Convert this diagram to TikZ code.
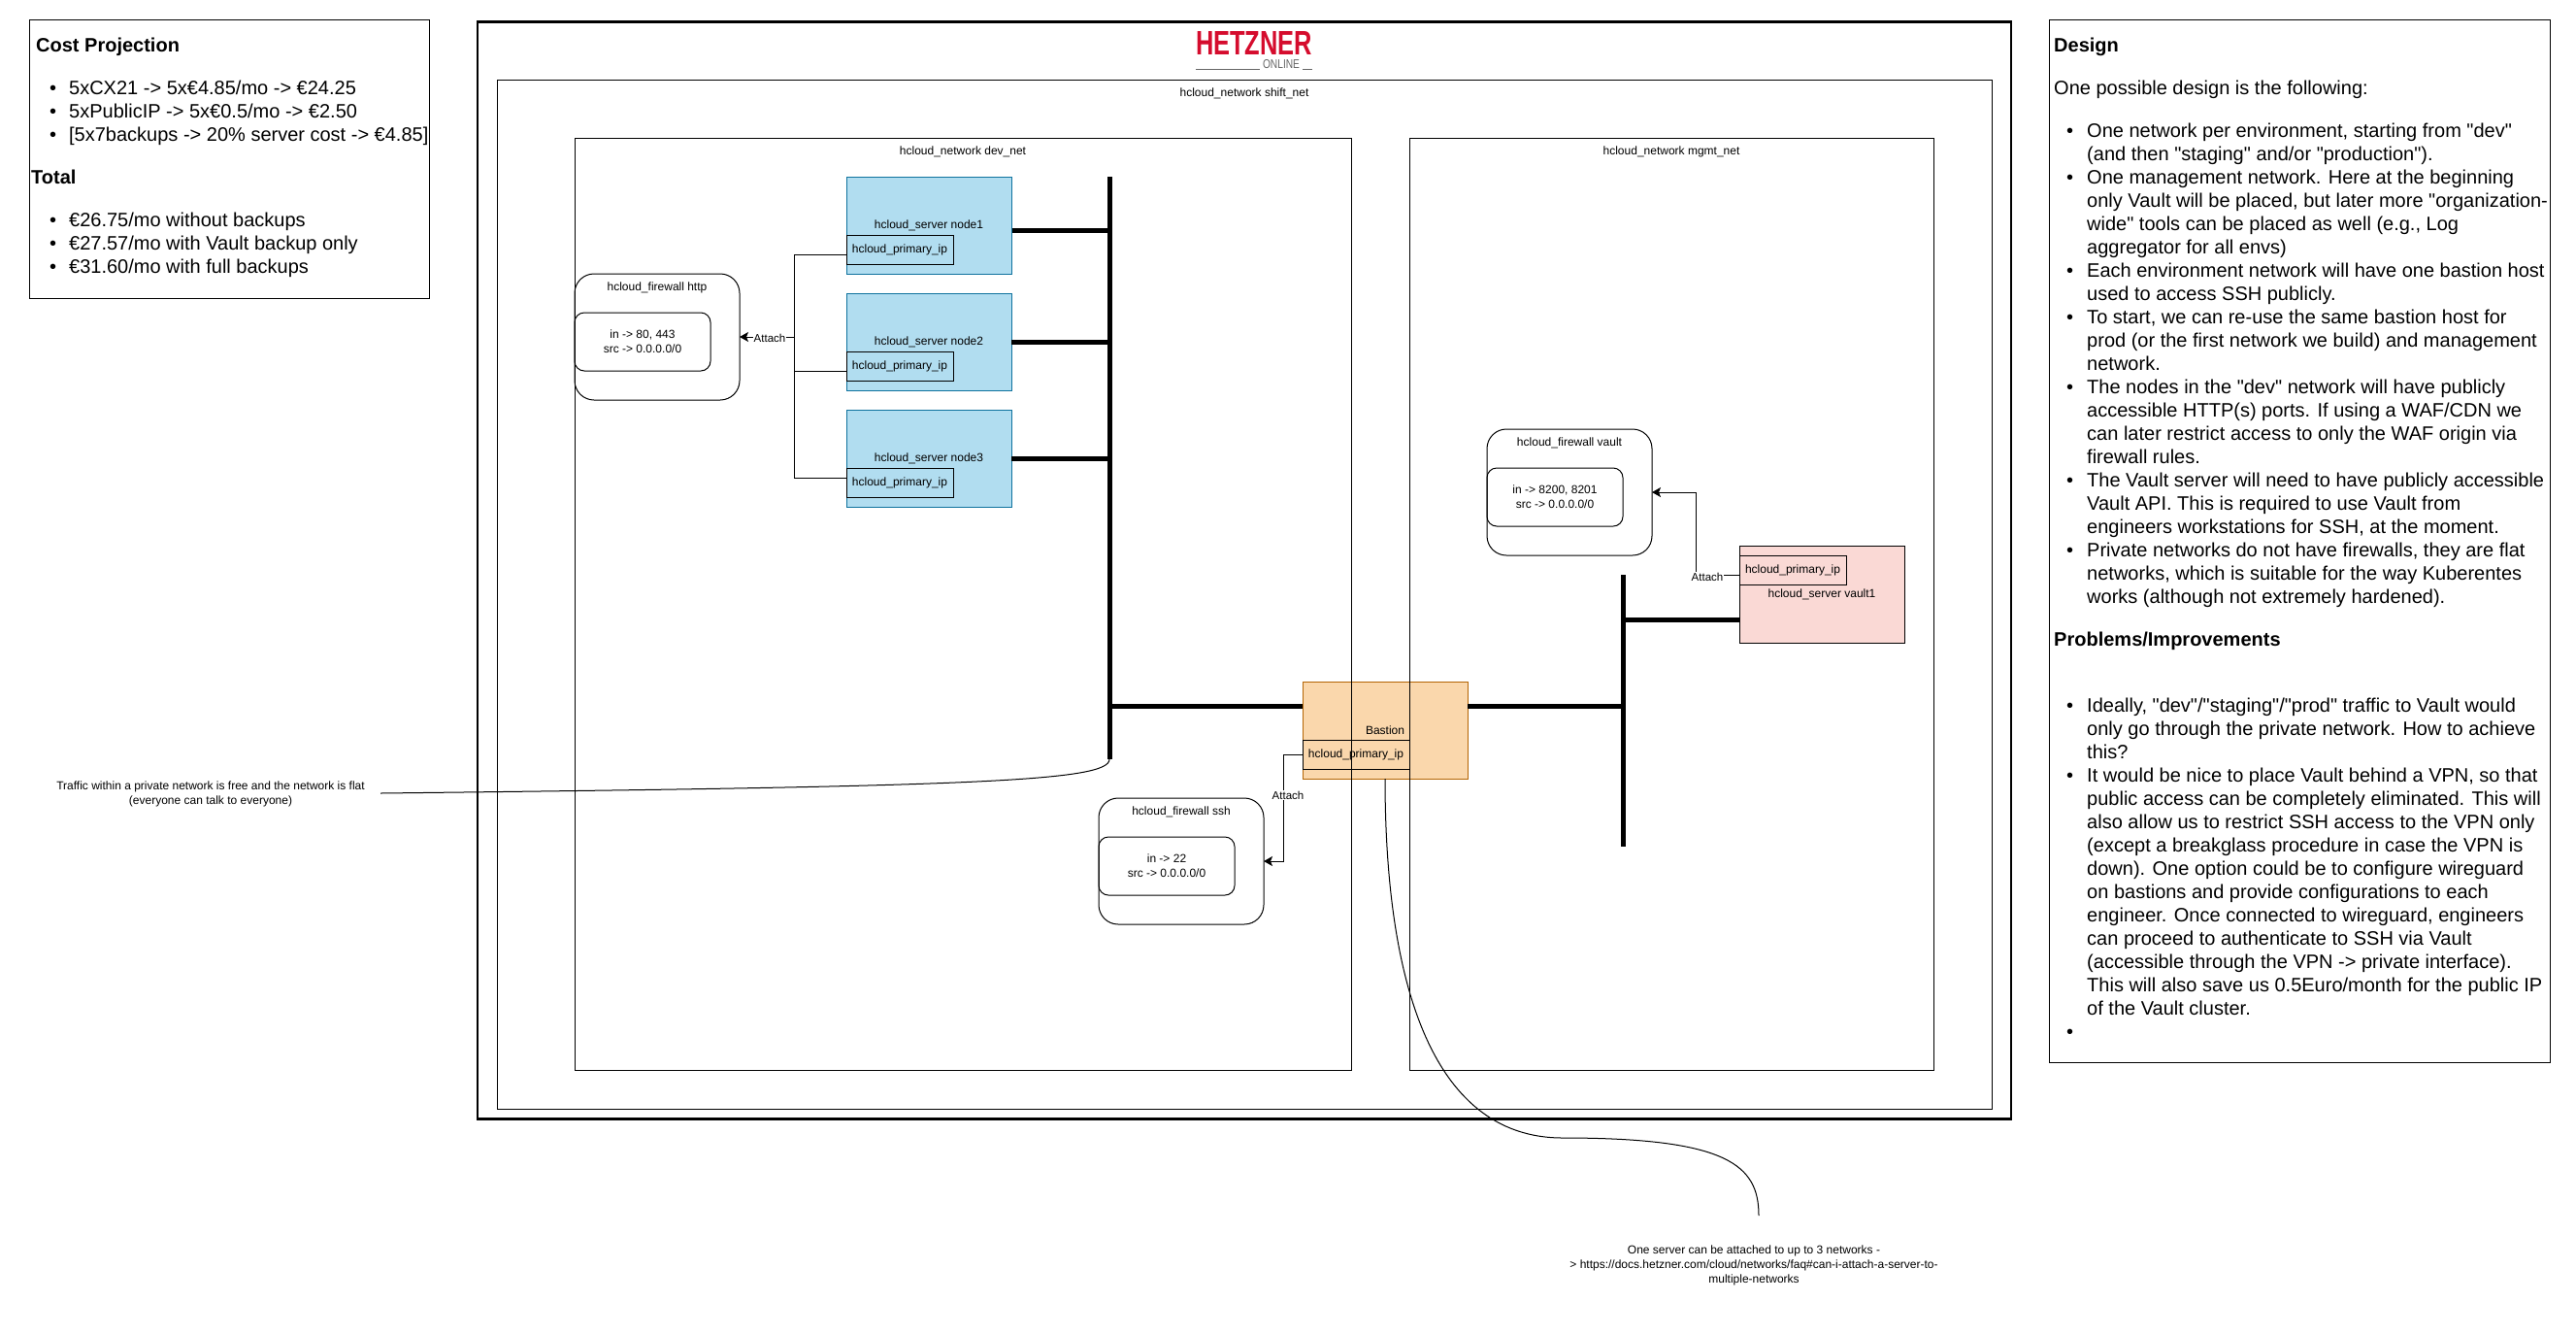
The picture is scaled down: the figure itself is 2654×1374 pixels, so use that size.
\documentclass[tikz,border=0pt]{standalone}
\usepackage{fontspec}
\setmainfont{Liberation Sans}[Ligatures=TeXOff]
\usepackage{xcolor}
\usetikzlibrary{arrows.meta}
\definecolor{serverfill}{HTML}{B1DDF0}
\definecolor{serverline}{HTML}{10739E}
\definecolor{bastionfill}{HTML}{FAD7AC}
\definecolor{bastionline}{HTML}{B46504}
\definecolor{vaultfill}{HTML}{FAD9D5}
\definecolor{logored}{HTML}{D50C2D}
\definecolor{logogray}{HTML}{666666}
\tikzset{base box/.style = {draw = black, line width = 1pt, inner sep = 0pt, outer sep = 0pt, font = \fontsize{12}{15}\selectfont, align = center}}
\tikzset{net box/.style = {base box, anchor = north west}}
\tikzset{server box/.style = {base box, anchor = north west, minimum width = 170pt, minimum height = 100pt}}
\tikzset{ip box/.style = {base box, anchor = north west, minimum width = 110pt, minimum height = 30pt}}
\tikzset{fw box/.style = {base box, anchor = north west, rounded corners = 20pt, minimum width = 170pt, minimum height = 130pt}}
\tikzset{rule box/.style = {base box, anchor = north west, rounded corners = 10pt, minimum width = 140pt, minimum height = 60pt}}
\tikzset{small text/.style = {inner sep = 0pt, font = \fontsize{12}{15}\selectfont, align = center}}
\tikzset{panel text/.style = {inner sep = 0pt, anchor = north west, font = \fontsize{20}{24}\selectfont, align = left}}
\tikzset{attach text/.style = {fill = white, inner sep = 0.5pt, font = \fontsize{11.5}{14}\selectfont}}
\tikzset{wire/.style = {line width = 1pt}}
\tikzset{attach wire/.style = {line width = 1pt, -{Stealth[length = 9pt, width = 10pt, inset = 2pt]}}}
\tikzset{bus/.style = {line width = 5pt}}
\newcommand{\costitem}{\makebox[39pt][l]{\hspace*{19pt}\textbullet}}
\newcommand{\designitem}{\makebox[34pt][l]{\hspace*{13pt}\textbullet}}
\newcommand{\designgap}{\hspace*{34pt}}
\begin{document}
\begin{tikzpicture}[x = 1pt, y = -1pt]

  \useasboundingbox (0 , 0) rectangle (2654 , 1374);

  \def\devbus{1143}
  \def\mgmtbus{1672}

  \node [net box, minimum width = 412pt, minimum height = 287pt] (costbox) at (30 , 20) {};
  \node [panel text] (costtext) at (32 , 39) {\hspace*{5pt}\bfseries Cost Projection\\[20pt]
    \costitem 5xCX21 -> 5x€4.85/mo -> €24.25\\
    \costitem 5xPublicIP -> 5x€0.5/mo -> €2.50\\
    \costitem [5x7backups -> 20\% server cost -> €4.85]\\[20pt]
    \bfseries Total\\[20pt]
    \costitem €26.75/mo without backups\\
    \costitem €27.57/mo with Vault backup only\\
    \costitem €31.60/mo with full backups};

  \node [net box, minimum width = 516pt, minimum height = 1074pt] (designbox) at (2111 , 20) {};
  \node [panel text] (designtext) at (2116 , 39) {\bfseries Design\\[20pt]
    One possible design is the following:\\[20pt]
    \designitem One network per environment, starting from "dev"\\
    \designgap (and then "staging" and/or "production").\\
    \designitem One management network. Here at the beginning\\
    \designgap only Vault will be placed, but later more "organization-\\
    \designgap wide" tools can be placed as well (e.g., Log\\
    \designgap aggregator for all envs)\\
    \designitem Each environment network will have one bastion host\\
    \designgap used to access SSH publicly.\\
    \designitem To start, we can re-use the same bastion host for\\
    \designgap prod (or the first network we build) and management\\
    \designgap network.\\
    \designitem The nodes in the "dev" network will have publicly\\
    \designgap accessible HTTP(s) ports. If using a WAF/CDN we\\
    \designgap can later restrict access to only the WAF origin via\\
    \designgap firewall rules.\\
    \designitem The Vault server will need to have publicly accessible\\
    \designgap Vault API. This is required to use Vault from\\
    \designgap engineers workstations for SSH, at the moment.\\
    \designitem Private networks do not have firewalls, they are flat\\
    \designgap networks, which is suitable for the way Kuberentes\\
    \designgap works (although not extremely hardened).\\[20pt]
    \bfseries Problems/Improvements\\[44pt]
    \designitem Ideally, "dev"/"staging"/"prod" traffic to Vault would\\
    \designgap only go through the private network. How to achieve\\
    \designgap this?\\
    \designitem It would be nice to place Vault behind a VPN, so that\\
    \designgap public access can be completely eliminated. This will\\
    \designgap also allow us to restrict SSH access to the VPN only\\
    \designgap (except a breakglass procedure in case the VPN is\\
    \designgap down). One option could be to configure wireguard\\
    \designgap on bastions and provide configurations to each\\
    \designgap engineer. Once connected to wireguard, engineers\\
    \designgap can proceed to authenticate to SSH via Vault\\
    \designgap (accessible through the VPN -> private interface).\\
    \designgap This will also save us 0.5Euro/month for the public IP\\
    \designgap of the Vault cluster.\\
    \designitem\strut};

  \node [net box, draw = black, line width = 2.5pt, minimum width = 1580pt, minimum height = 1130pt] (outerbox) at (492 , 22.5) {};
  \node [inner sep = 0pt, text = logored, font = \bfseries] (logomain) at (1292 , 44) {\resizebox{120pt}{24pt}{HETZNER}};
  \node [inner sep = 0pt, text = logogray] (logosub) at (1320 , 66.5) {\resizebox{38pt}{9pt}{ONLINE}};
  \coordinate (logoleft) at (1232 , 71);
  \coordinate (logoright) at (1352 , 71);
  \coordinate (logoleftend) at (1298 , 71);
  \coordinate (logorightend) at (1342 , 71);
  \draw [line width = 1pt, draw = logogray] (logoleft) -- (logoleftend);
  \draw [line width = 1pt, draw = logogray] (logoright) -- (logorightend);

  \node [server box, fill = serverfill, draw = serverline] (node1) at (872 , 182) {hcloud\_server node1};
  \node [server box, fill = serverfill, draw = serverline] (node2) at (872 , 302) {hcloud\_server node2};
  \node [server box, fill = serverfill, draw = serverline] (node3) at (872 , 422) {hcloud\_server node3};
  \node [ip box] (node1ip) at (872 , 242) {hcloud\_primary\_ip};
  \node [ip box] (node2ip) at (872 , 362) {hcloud\_primary\_ip};
  \node [ip box] (node3ip) at (872 , 482) {hcloud\_primary\_ip};

  \node [server box, fill = bastionfill, draw = bastionline] (bastion) at (1342 , 702) {Bastion};
  \node [ip box] (bastionip) at (1342 , 762) {hcloud\_primary\_ip};

  \node [server box, fill = vaultfill] (vault1) at (1792 , 562) {hcloud\_server vault1};
  \node [ip box] (vaultip) at (1792 , 572) {hcloud\_primary\_ip};

  \node [net box, minimum width = 1540pt, minimum height = 1060pt] (shiftnet) at (512 , 82) {};
  \node [net box, minimum width = 800pt, minimum height = 960pt] (devnet) at (592 , 142) {};
  \node [net box, minimum width = 540pt, minimum height = 960pt] (mgmtnet) at (1452 , 142) {};
  \node [small text] (shiftlabel) at (1282 , 96) {hcloud\_network shift\_net};
  \node [small text] (devlabel) at (992 , 156) {hcloud\_network dev\_net};
  \node [small text] (mgmtlabel) at (1722 , 156) {hcloud\_network mgmt\_net};

  \node [fw box] (fwhttp) at (592 , 282) {};
  \node [rule box] (rulehttp) at (592 , 322) {in -> 80, 443\\src -> 0.0.0.0/0};
  \node [small text] (fwhttplabel) at (677 , 296) {hcloud\_firewall http};

  \node [fw box] (fwvault) at (1532 , 442) {};
  \node [rule box] (rulevault) at (1532 , 482) {in -> 8200, 8201\\src -> 0.0.0.0/0};
  \node [small text] (fwvaultlabel) at (1617 , 456) {hcloud\_firewall vault};

  \node [fw box] (fwssh) at (1132 , 822) {};
  \node [rule box] (rulessh) at (1132 , 862) {in -> 22\\src -> 0.0.0.0/0};
  \node [small text] (fwsshlabel) at (1217 , 836) {hcloud\_firewall ssh};

  \coordinate (devtop) at (\devbus , 182);
  \coordinate (devend) at (\devbus , 782);
  \coordinate (mgmttop) at (\mgmtbus , 592);
  \coordinate (mgmtend) at (\mgmtbus , 872);
  \coordinate (node1port) at (1042.5 , 237);
  \coordinate (vaultport) at (1792 , 638);
  \coordinate (bastionleft) at (1342 , 727);
  \coordinate (bastionright) at (1512 , 727);

  \draw [bus] (devtop) -- (devend);
  \draw [bus] (mgmttop) -- (mgmtend);
  \draw [bus] (node1port) -- (node1port -| devtop);
  \draw [bus] (node2.east) -- (node2.east -| devtop);
  \draw [bus] (node3.east) -- (node3.east -| devtop);
  \draw [bus] (bastionleft -| devtop) -- (bastionleft);
  \draw [bus] (bastionright) -- (bastionright -| mgmttop);
  \draw [bus] (vaultport) -- (vaultport -| mgmttop);

  \coordinate (httpjoin) at (818 , 347);
  \coordinate (node1wire) at (872 , 262);
  \coordinate (node2wire) at (872 , 382);
  \coordinate (node3wire) at (872 , 492);
  \draw [wire] (node1wire) -| (httpjoin);
  \draw [wire] (node2wire) -| (httpjoin);
  \draw [wire] (node3wire) -| (httpjoin);
  \draw [attach wire] (httpjoin) -- (fwhttp.east);
  \node [attach text] (attachhttp) at (793 , 348) {Attach};

  \coordinate (sshjog) at (1322 , 887);
  \draw [attach wire] (bastionip.west) -- (bastionip.west -| sshjog) -- (sshjog) -- (fwssh.east);
  \node [attach text] (attachssh) at (1327 , 819) {Attach};

  \coordinate (vaultwire) at (1792 , 592);
  \coordinate (vaultjog) at (1747 , 507);
  \draw [attach wire] (vaultwire) -- (vaultwire -| vaultjog) -- (vaultjog) -- (fwvault.east);
  \node [attach text] (attachvault) at (1759 , 594) {Attach};

  \node [small text] (trafficnote) at (217 , 818) {Traffic within a private network is free and the network is flat\\(everyone can talk to everyone)};
  \coordinate (trafficstart) at (392 , 817);
  \draw [wire] (trafficstart) .. controls (1000 , 810) and (1143 , 805) .. (devend);

  \node [small text] (attachnote) at (1807 , 1303) {One server can be attached to up to 3 networks -\\> https://docs.hetzner.com/cloud/networks/faq\#can-i-attach-a-server-to-\\multiple-networks};
  \coordinate (notetop) at (1812 , 1252);
  \coordinate (notemid) at (1610 , 1172);
  \draw [wire] (bastion.south) .. controls (1427 , 1000) and (1470 , 1172) .. (notemid) .. controls (1780 , 1172) and (1812 , 1200) .. (notetop);

\end{tikzpicture}
\end{document}
